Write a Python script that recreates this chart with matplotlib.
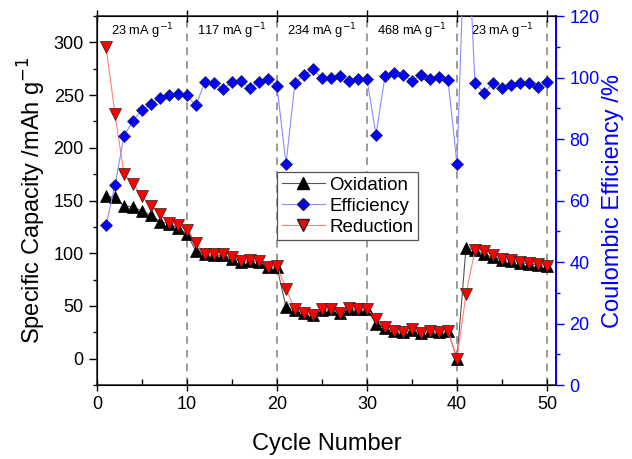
import matplotlib.pyplot as plt
from matplotlib.ticker import MultipleLocator
from matplotlib.lines import Line2D

plt.rcParams['font.family'] = ['Liberation Sans', 'DejaVu Sans']

cycles = list(range(1, 51))

oxidation = [154, 153, 145, 144, 140, 136, 130, 128, 124, 118,
             102, 99, 98, 98, 95, 92, 93, 92, 87, 87,
             49, 46, 43, 41, 46, 47, 43, 47, 47, 47,
             33, 29, 26, 25, 27, 24, 26, 25, 26, 0,
             105, 103, 99, 96, 94, 93, 91, 90, 89, 88]

reduction = [296, 232, 175, 166, 154, 145, 137, 129, 127, 122,
             110, 99, 99, 99, 96, 93, 94, 93, 87, 88,
             66, 47, 43, 41, 47, 47, 43, 48, 47, 47,
             38, 30, 26, 25, 28, 24, 26, 25, 26.5, 0,
             61, 103, 102.5, 98, 95, 94, 92, 91, 90, 88]

efficiency = [52, 65, 81, 86, 89.4, 91.4, 93.4, 94.3, 94.5, 94.2,
              91, 98.6, 98.1, 96.2, 98.6, 98.9, 96.5, 98.6, 99.4, 97.2,
              71.9, 98.3, 100.8, 102.7, 99.7, 99.7, 100.5, 98.9, 99.4, 99.4,
              81.3, 100.5, 101.4, 100.8, 98.9, 100.8, 99.4, 100.3, 99.2, 71.9,
              160, 98.3, 94.9, 98.3, 96.7, 97.6, 98.1, 98.1, 96.8, 98.6]

rate_labels = ['23', '117', '234', '468', '23']
rate_centers = [5, 15, 25, 35, 45]
step_edges = [10, 20, 30, 40, 50]

fig = plt.figure(figsize=(6.32, 4.59), dpi=100)
ax = fig.add_axes([0.1535, 0.1612, 0.7262, 0.8038])
ax2 = ax.twinx()

blue = '#0000ff'

# dashed separators between current-density steps
for x in step_edges:
    ax.axvline(x, color='#808080', ls=(0, (5, 4)), lw=1.1, zorder=0)

ax.plot(cycles, oxidation, color='#555555', lw=0.8, marker='^', ms=8,
        mfc='black', mec='black', mew=0.5, zorder=3)
ax.plot(cycles, reduction, color='#ff8080', lw=0.8, marker='v', ms=8,
        mfc='#ff0000', mec='#222222', mew=0.5, zorder=4)
ax2.plot(cycles, efficiency, color='#8c8cff', lw=0.8, marker='D', ms=6.5,
         mfc=blue, mec='#222244', mew=0.5, zorder=3)

for lab, xc in zip(rate_labels, rate_centers):
    ax.text(xc, 311, lab + r' mA g$^{-1}$', ha='center', va='center', fontsize=9.3)

ax.set_xlim(0, 51)
ax.set_ylim(-25, 325)
ax2.set_ylim(0, 120)

ax.xaxis.set_major_locator(MultipleLocator(10))
ax.xaxis.set_minor_locator(MultipleLocator(5))
ax.yaxis.set_minor_locator(MultipleLocator(25))
ax.set_yticks([0, 50, 100, 150, 200, 250, 300])
ax2.yaxis.set_major_locator(MultipleLocator(20))
ax2.yaxis.set_minor_locator(MultipleLocator(10))

ax.tick_params(axis='x', which='major', direction='inout', length=9, width=1,
               top=True, labelsize=13)
ax.tick_params(axis='x', which='minor', direction='in', length=4, width=1, top=False)
ax.tick_params(axis='y', which='major', direction='out', length=6, width=1, labelsize=13)
ax.tick_params(axis='y', which='minor', direction='out', length=3, width=1)
ax2.tick_params(axis='y', which='major', direction='out', length=6, width=1,
                colors=blue, labelsize=13)
ax2.tick_params(axis='y', which='minor', direction='out', length=3, width=1, colors=blue)

for sp in ['left', 'bottom', 'top']:
    ax.spines[sp].set_color('#222222')
    ax.spines[sp].set_linewidth(1.1)
ax2.spines['right'].set_color(blue)
ax2.spines['right'].set_linewidth(1.4)

ax.set_xlabel('Cycle Number', fontsize=17, labelpad=14)
ax.set_ylabel(r'Specific Capacity /mAh g$^{-1}$', fontsize=17, labelpad=4)
ax2.set_ylabel('Coulombic Efficiency /%', fontsize=17, color=blue, labelpad=2)

handles = [
    Line2D([], [], color='#555555', lw=0.8, marker='^', ms=8, mfc='black', mec='black'),
    Line2D([], [], color='#8c8cff', lw=0.8, marker='D', ms=6.5, mfc=blue, mec='#222244'),
    Line2D([], [], color='#ff8080', lw=0.8, marker='v', ms=8, mfc='#ff0000', mec='#222222'),
]
leg = ax2.legend(handles, ['Oxidation', 'Efficiency', 'Reduction'],
                 loc='upper left', bbox_to_anchor=(0.392, 0.577), borderaxespad=0,
                 fontsize=13.5, fancybox=False, framealpha=1, edgecolor='#555555',
                 handlelength=2.3, handletextpad=0.25, labelspacing=0.2,
                 borderpad=0.25)
leg.get_frame().set_linewidth(0.9)

fig.savefig('out.png', dpi=100)
